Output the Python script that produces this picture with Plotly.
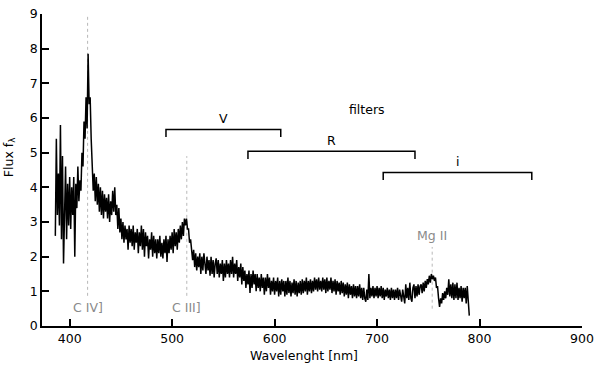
import plotly.graph_objects as go

# Spectrum (wavelength in nm, 1 nm steps from 386 to 790, flux)
wavelength = list(range(386, 791))
flux = [
    2.6, 5.4, 3.2, 4.4, 2.9, 5.8, 2.5, 4.9, 1.8, 3.6,     # 386
    4.6, 2.5, 4.1, 2.9, 4.3, 2.8, 4.0, 3.2, 4.3, 2.0,     # 396
    4.1, 3.4, 4.6, 3.6, 4.2, 3.9, 5.0, 4.6, 5.9, 5.4,     # 406
    6.6, 5.7, 7.85, 6.4, 6.6, 5.4, 4.7, 3.9, 4.4, 3.6,    # 416
    4.3, 3.5, 4.1, 3.3, 4.0, 3.2, 3.9, 3.1, 3.8, 3.3,     # 426
    3.7, 3.1, 3.8, 3.0, 3.6, 3.2, 3.9, 3.3, 4.0, 3.2,     # 436
    3.5, 2.8, 3.4, 2.7, 3.1, 2.5, 3.0, 2.4, 2.9, 2.5,     # 446
    2.8, 2.2, 2.9, 2.4, 2.8, 2.3, 2.9, 2.2, 2.7, 2.4,     # 456
    2.8, 2.1, 2.7, 2.3, 2.9, 2.2, 2.8, 2.0, 2.7, 2.3,     # 466
    2.6, 1.95, 2.5, 2.2, 2.7, 2.0, 2.6, 2.1, 2.5, 1.95,   # 476
    2.5, 2.1, 2.6, 2.0, 2.4, 1.95, 2.5, 2.1, 2.6, 1.85,   # 486
    2.5, 2.1, 2.6, 2.2, 2.7, 2.1, 2.8, 2.3, 2.7, 2.2,     # 496
    2.8, 2.4, 2.9, 2.5, 3.0, 2.6, 3.1, 2.9, 3.1, 2.8,     # 506
    2.8, 2.4, 2.5, 2.1, 1.9, 2.2, 1.7, 2.1, 1.6, 2.0,     # 516
    1.7, 2.1, 1.5, 2.0, 1.6, 2.1, 1.7, 1.5, 2.0, 1.6,     # 526
    1.9, 1.45, 2.0, 1.5, 1.9, 1.4, 1.8, 1.95, 1.5, 1.9,   # 536
    1.4, 1.8, 1.5, 1.9, 1.3, 1.8, 1.4, 1.9, 1.5, 1.8,     # 546
    1.4, 1.9, 1.5, 2.0, 1.4, 1.8, 1.5, 1.9, 1.3, 1.7,     # 556
    1.4, 1.8, 1.2, 1.7, 1.3, 1.6, 1.1, 1.5, 1.2, 1.6,     # 566
    0.95, 1.5, 1.1, 1.6, 1.2, 1.5, 1.0, 1.5, 1.1, 1.4,    # 576
    1.0, 1.5, 1.1, 1.4, 0.9, 1.4, 1.0, 1.5, 1.1, 1.4,     # 586
    0.9, 1.3, 1.0, 1.4, 0.9, 1.3, 1.0, 1.4, 0.85, 1.3,    # 596
    0.9, 1.35, 1.0, 1.3, 0.85, 1.3, 0.9, 1.4, 0.95, 1.3,  # 606
    0.85, 1.25, 0.95, 1.35, 0.9, 1.3, 0.85, 1.25, 0.95, 1.3,  # 616
    0.9, 1.35, 0.95, 1.3, 1.0, 1.4, 0.9, 1.3, 1.0, 1.35,  # 626
    0.95, 1.3, 1.0, 1.4, 1.05, 1.35, 1.0, 1.4, 1.05, 1.3,  # 636
    1.0, 1.4, 1.05, 1.35, 0.95, 1.4, 1.0, 1.3, 1.05, 1.4,  # 646
    0.95, 1.3, 1.0, 1.35, 0.9, 1.3, 1.0, 1.25, 0.9, 1.3,  # 656
    0.95, 1.25, 0.85, 1.2, 0.9, 1.25, 0.8, 1.2, 0.9, 1.15,  # 666
    0.8, 1.2, 0.85, 1.15, 0.8, 1.15, 0.85, 1.2, 0.8, 1.1,  # 676
    0.75, 1.1, 0.8, 0.7, 1.05, 0.75, 1.5, 0.8, 1.1, 0.85,  # 686
    1.15, 0.8, 1.1, 0.85, 1.15, 0.8, 1.1, 0.85, 1.15, 0.8,  # 696
    1.1, 0.75, 1.05, 0.85, 1.1, 0.8, 1.05, 0.75, 1.1, 0.8,  # 706
    1.05, 0.75, 1.05, 0.8, 1.1, 0.75, 1.05, 0.8, 0.7, 1.05,  # 716
    0.75, 0.65, 1.2, 0.8, 1.1, 0.75, 1.25, 0.8, 0.7, 1.1,  # 726
    1.2, 0.8, 1.15, 0.85, 1.2, 0.9, 1.15, 1.2, 0.95, 1.25,  # 736
    1.0, 1.3, 1.1, 1.35, 1.2, 1.45, 1.25, 1.5, 1.35, 1.45,  # 746
    1.3, 1.4, 1.1, 1.15, 0.8, 0.55, 0.8, 0.65, 0.95, 0.75,  # 756
    1.0, 0.8, 1.1, 0.9, 1.35, 0.85, 1.2, 0.8, 1.25, 0.75,  # 766
    1.2, 0.8, 1.25, 0.75, 1.1, 0.8, 1.15, 0.7, 1.1, 0.8,  # 776
    1.1, 0.65, 1.15, 0.75, 0.3,                           # 786
]

# Filter bands
filter_names = ["V", "R", "i"]
filter_start = [494, 574, 706]
filter_end = [606, 737, 851]
filter_level = [5.67, 5.04, 4.43]
filters_title = "filters"
filters_title_pos = (690, 6.24)

# Emission lines
line_names = ["C IV]", "C III]", "Mg II"]
line_wavelength = [417.5, 514.3, 753.8]
line_top = [9.0, 4.9, 2.28]
line_bottom = [0.87, 0.87, 0.5]
line_label_y = [0.53, 0.53, 2.62]

x_ticks = [400, 500, 600, 700, 800, 900]
y_ticks = list(range(0, 10))
x_title = "Wavelenght [nm]"
y_title = "Flux f<sub>λ</sub>"

FONT = "DejaVu Sans"
fig = go.Figure()

for name, wl, top, bot in zip(line_names, line_wavelength, line_top, line_bottom):
    fig.add_trace(go.Scatter(x=[wl, wl], y=[bot, top], mode="lines",
                             line=dict(color="#b8b8b8", width=1, dash="dot"),
                             hoverinfo="skip", showlegend=False))

fig.add_trace(go.Scatter(x=wavelength, y=flux, mode="lines",
                         line=dict(color="black", width=1.5),
                         showlegend=False))

hook = 0.22
for name, s, e, lev in zip(filter_names, filter_start, filter_end, filter_level):
    fig.add_trace(go.Scatter(x=[s, s, e, e], y=[lev - hook, lev, lev, lev - hook],
                             mode="lines", line=dict(color="black", width=1.5),
                             hoverinfo="skip", showlegend=False))
    fig.add_annotation(x=(s + e) / 2, y=lev, text=name, showarrow=False,
                       yanchor="bottom", yshift=1,
                       font=dict(family=FONT, size=12.5, color="black"))

fig.add_annotation(x=filters_title_pos[0], y=filters_title_pos[1], text=filters_title,
                   showarrow=False, font=dict(family=FONT, size=12.5, color="black"))

for name, wl, ly in zip(line_names, line_wavelength, line_label_y):
    fig.add_annotation(x=wl, y=ly, text=name, showarrow=False,
                       font=dict(family=FONT, size=12.5, color="#8a8a8a"))

# Axis titles placed as annotations
fig.add_annotation(x=629, y=0, xref="x", yref="paper", text=x_title, showarrow=False,
                   yanchor="middle", yshift=-29,
                   font=dict(family=FONT, size=12.5, color="black"))
fig.add_annotation(x=0, y=4.87, xref="paper", yref="y", text=y_title, showarrow=False,
                   textangle=-90, xanchor="center", xshift=-33,
                   font=dict(family=FONT, size=12.5, color="black"))

fig.update_layout(
    width=600, height=366,
    margin=dict(l=42, r=16, t=6, b=40),
    paper_bgcolor="white", plot_bgcolor="white",
    font=dict(family=FONT, size=12.5, color="black"),
    xaxis=dict(range=[373, 900], tickvals=x_ticks, ticks="inside", ticklen=7,
               tickwidth=1.5, tickcolor="black", showline=True, linecolor="black",
               linewidth=1.5, showgrid=False, zeroline=False,
               ticklabeloverflow="allow"),
    yaxis=dict(range=[0, 9], tickvals=y_ticks, ticks="inside", ticklen=7,
               tickwidth=1.5, tickcolor="black", showline=True, linecolor="black",
               linewidth=1.5, showgrid=False, zeroline=False,
               ticklabeloverflow="allow"),
)

fig.write_html("out.html", config={"displayModeBar": False},
               post_script="document.body.style.margin='0';")
